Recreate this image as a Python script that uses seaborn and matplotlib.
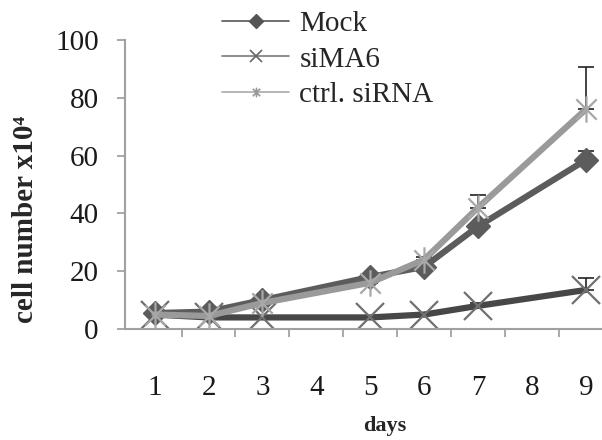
import numpy as np
import pandas as pd
import matplotlib
matplotlib.use("Agg")
import matplotlib.pyplot as plt
from matplotlib.path import Path
from matplotlib.lines import Line2D
import seaborn as sns

# values
days = [1, 2, 3, 5, 6, 7, 9]
mock = [5.5, 6.0, 10.0, 18.0, 21.5, 35.5, 58.5]
sima6 = [5.0, 4.0, 4.0, 4.0, 5.0, 8.0, 13.5]
ctrl = [5.0, 4.5, 9.0, 16.0, 24.0, 42.0, 76.0]
mock_err = [0.5, 0.5, 0.5, 0.5, 0.5, 1.0, 3.0]
sima6_err = [0.3, 0.3, 0.3, 0.3, 0.3, 1.0, 4.0]
ctrl_err = [0.5, 0.5, 0.5, 0.5, 1.0, 4.5, 14.5]
tick_days = [1, 2, 3, 4, 5, 6, 7, 8, 9]
labels = ["Mock", "siMA6", "ctrl. siRNA"]

sns.set_style("white")
plt.rcParams["font.family"] = ["Liberation Serif", "DejaVu Serif"]

# Excel style "star" marker: X with a vertical stroke
star = Path([(-1, -1), (1, 1), (-1, 1), (1, -1), (0, -1.3), (0, 1.3)],
            [Path.MOVETO, Path.LINETO, Path.MOVETO, Path.LINETO, Path.MOVETO, Path.LINETO])

fig = plt.figure(figsize=(6.02, 4.40), dpi=100)
ax = fig.add_axes([0.2076, 0.2523, 0.7924, 0.6568])

df = pd.DataFrame({"day": days, "mock": mock, "sima6": sima6, "ctrl": ctrl})

sns.lineplot(data=df, x="day", y="sima6", ax=ax, color="#474747", linewidth=4.5,
             marker="x", markersize=20, markeredgecolor="#707070",
             markeredgewidth=1.6, zorder=2)
sns.lineplot(data=df, x="day", y="mock", ax=ax, color="#5c5c5c", linewidth=4.5,
             marker="D", markersize=12, markerfacecolor="#5c5c5c",
             markeredgecolor="#5c5c5c", markeredgewidth=1, zorder=3)
sns.lineplot(data=df, x="day", y="ctrl", ax=ax, color="#9a9a9a", linewidth=4.5,
             marker=star, markersize=19, markeredgecolor="#a8a8a8",
             markeredgewidth=1.6, zorder=4)

# upward-only error bars, tucked under the lines so the small ones hide
for vals, err in [(sima6, sima6_err), (mock, mock_err), (ctrl, ctrl_err)]:
    ax.errorbar(days, vals, yerr=[np.zeros(len(err)), err], fmt="none",
                ecolor="#222222", elinewidth=1.2, capsize=6, capthick=1.2, zorder=1.5)

ax.set_xlim(0.45, 9.3)
ax.set_ylim(0, 100)
ax.set_yticks(range(0, 101, 20))
ax.set_xticks(tick_days)
ax.set_xticks(np.arange(1.5, 9, 1), minor=True)
ax.tick_params(axis="x", which="major", length=0, pad=33, labelsize=21, labelcolor="#1a1a1a")
ax.tick_params(axis="x", which="minor", bottom=True, length=6, width=1.2, color="#9a9a9a")
ax.tick_params(axis="y", left=True, length=6, width=1.2, color="#9a9a9a",
               pad=13, labelsize=21, labelcolor="#1a1a1a")

for side in ["top", "right"]:
    ax.spines[side].set_visible(False)
for side in ["left", "bottom"]:
    ax.spines[side].set_color("#a0a0a0")
    ax.spines[side].set_linewidth(1.5)

ax.set_xlabel("days", fontsize=16, fontweight="bold")
ax.xaxis.set_label_coords(0.545, -0.3)
ax.set_ylabel("cell number x10\u2074", fontsize=21, fontweight="bold")
ax.yaxis.set_label_coords(-0.18, 0.38)

handles = [
    Line2D([], [], color="#555555", linewidth=1.2, marker="D", markersize=7,
           markerfacecolor="#555555", markeredgecolor="#555555"),
    Line2D([], [], color="#7a7a7a", linewidth=1.2, marker="x", markersize=8,
           markeredgewidth=1.2, markeredgecolor="#666666"),
    Line2D([], [], color="#aaaaaa", linewidth=1.2, marker=star, markersize=7,
           markeredgewidth=1.2, markeredgecolor="#999999"),
]
fig.legend(handles, labels, loc="upper left", bbox_to_anchor=(0.369, 0.975),
           frameon=False, fontsize=21, handlelength=2.3, handletextpad=0.35,
           labelspacing=0.3, borderpad=0, borderaxespad=0)

fig.savefig("out.png", dpi=100)
